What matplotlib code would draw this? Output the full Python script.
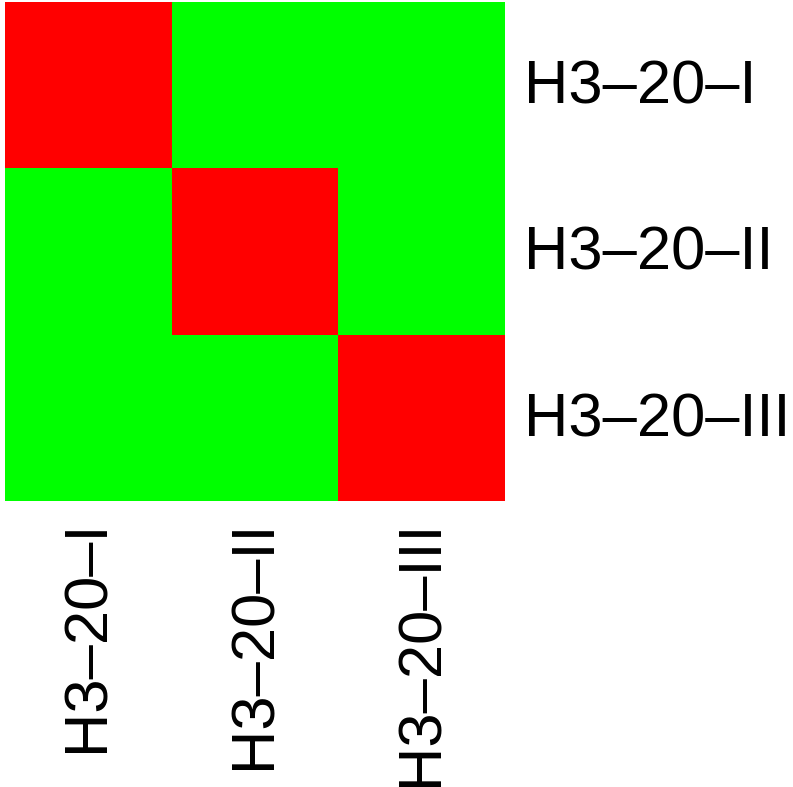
import numpy as np
import matplotlib.pyplot as plt
from matplotlib.colors import ListedColormap
import matplotlib.transforms as mtransforms

plt.rcParams['font.family'] = ['Liberation Sans', 'DejaVu Sans']

# sample labels and similarity matrix (1 = same sample)
samples = ['H3\u201320\u2013I', 'H3\u201320\u2013II', 'H3\u201320\u2013III']
values = np.array([[1, 0, 0],
                   [0, 1, 0],
                   [0, 0, 1]])

W, H = 793, 787
fig = plt.figure(figsize=(W / 100, H / 100), dpi=100)
ax = fig.add_axes([5 / W, (H - 501) / H, 500 / W, 499 / H])

cmap = ListedColormap(['#00ff00', '#ff0000'])
ax.pcolormesh(values, cmap=cmap, vmin=0, vmax=1)
ax.set_xlim(0, len(samples))
ax.set_ylim(len(samples), 0)

fs = 44.3
ax.set_xticks(np.arange(len(samples)) + 0.5)
ax.set_xticklabels(samples, rotation=90, fontsize=fs, ha='center', va='top')
ax.set_yticks(np.arange(len(samples)) + 0.5)
ax.set_yticklabels(samples, fontsize=fs, va='center')
ax.yaxis.tick_right()
ax.tick_params(axis='x', length=0, pad=13)
ax.tick_params(axis='y', length=0, pad=13.5)
# nudge right labels down a bit so caps sit centred on the rows
shift = mtransforms.ScaledTranslation(0, -2 / 72, fig.dpi_scale_trans)
for lbl in ax.get_yticklabels():
    lbl.set_transform(lbl.get_transform() + shift)
for s in ax.spines.values():
    s.set_visible(False)

fig.savefig('out.png', dpi=100)
